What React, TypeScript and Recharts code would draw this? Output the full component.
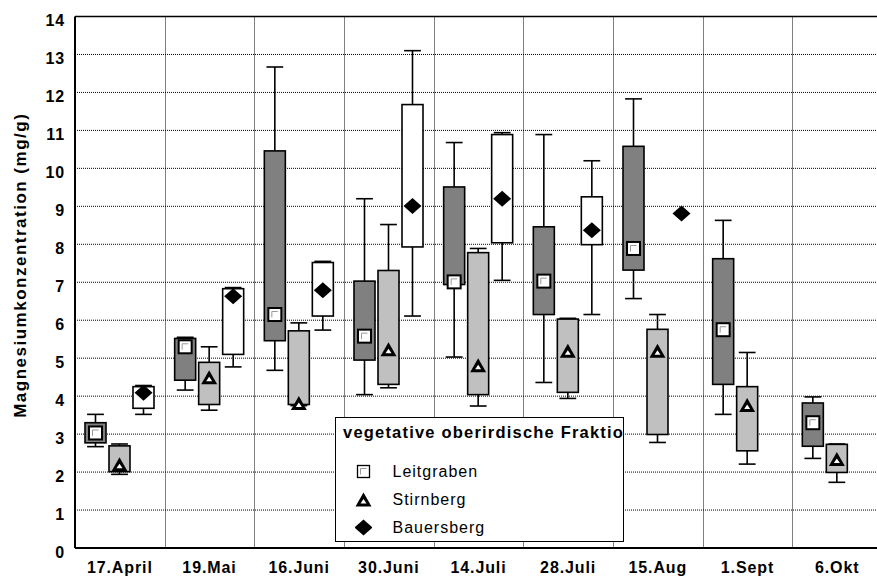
import React from 'react';
import { Bar, CartesianGrid, ComposedChart, ReferenceLine, XAxis, YAxis } from 'recharts';

// ----------------------
// DATA
// ----------------------
const dates = ['17.April', '19.Mai', '16.Juni', '30.Juni', '14.Juli', '28.Juli', '15.Aug', '1.Sept', '6.Okt'];
const yTicks = [0, 1, 2, 3, 4, 5, 6, 7, 8, 9, 10, 11, 12, 13, 14];

// Leitgraben
const lgMin = [2.67, 4.16, 4.68, 4.04, 5.03, 4.36, 6.57, 3.52, 2.36];
const lgQ1 = [2.77, 4.42, 5.46, 4.95, 6.94, 6.15, 7.32, 4.31, 2.68];
const lgMed = [3.03, 5.3, 6.15, 5.58, 7.01, 7.03, 7.89, 5.75, 3.3];
const lgQ3 = [3.3, 5.52, 10.46, 7.03, 9.51, 8.46, 10.58, 7.62, 3.82];
const lgMax = [3.52, 5.55, 12.67, 9.2, 10.68, 10.89, 11.83, 8.63, 3.98];

// Stirnberg
const stMin = [1.94, 3.63, 3.75, 4.22, 3.74, 3.94, 2.78, 2.21, 1.73];
const stQ1 = [2.01, 3.78, 3.78, 4.31, 4.04, 4.1, 2.99, 2.56, 1.99];
const stMed = [2.18, 4.47, 3.79, 5.21, 4.79, 5.17, 5.17, 3.74, 2.32];
const stQ3 = [2.69, 4.89, 5.72, 7.31, 7.78, 6.03, 5.76, 4.25, 2.73];
const stMax = [2.74, 5.3, 5.93, 8.52, 7.89, 6.05, 6.15, 5.15, 2.74];

// Bauersberg
const baMin = [3.52, 4.77, 5.74, 6.11, 7.05, 6.15, null, null, null];
const baQ1 = [3.68, 5.1, 6.11, 7.93, 8.04, 7.99, null, null, null];
const baMed = [4.09, 6.63, 6.79, 9.01, 9.2, 8.37, 8.81, null, null];
const baQ3 = [4.25, 6.83, 7.52, 11.68, 10.89, 9.25, null, null, null];
const baMax = [4.28, 6.86, 7.55, 13.1, 10.94, 10.2, null, null, null];

type Stats = { min: number | null; q1: number | null; med: number | null; q3: number | null; max: number | null };

const rows = dates.map((date, i) => ({
  date,
  lg: { min: lgMin[i], q1: lgQ1[i], med: lgMed[i], q3: lgQ3[i], max: lgMax[i] } as Stats,
  st: { min: stMin[i], q1: stQ1[i], med: stMed[i], q3: stQ3[i], max: stMax[i] } as Stats,
  ba: { min: baMin[i], q1: baQ1[i], med: baMed[i], q3: baQ3[i], max: baMax[i] } as Stats,
}));

const topOf = (s: Stats) => (s.max != null ? s.max : s.med);

const FONT = "Arial, 'Liberation Sans', sans-serif";

// ----------------------
// MARKERS
// ----------------------
const SquareMark = ({ cx, cy, size = 13, sw = 2 }: any) => (
  <g>
    <rect x={cx - size / 2} y={cy - size / 2} width={size} height={size} fill="#fff" stroke="#000" strokeWidth={sw} />
    <path d={`M${cx - 3} ${cy + 3} V${cy - 3} H${cx + 3}`} fill="none" stroke="#999" strokeWidth={1} />
  </g>
);

const TriangleMark = ({ cx, cy }: any) => (
  <g>
    <polygon points={`${cx},${cy - 8} ${cx + 8},${cy + 6} ${cx - 8},${cy + 6}`} fill="#000" />
    <polygon points={`${cx},${cy - 1.5} ${cx + 3},${cy + 3} ${cx - 3},${cy + 3}`} fill="#fff" />
  </g>
);

const DiamondMark = ({ cx, cy }: any) => (
  <polygon points={`${cx},${cy - 8} ${cx + 9},${cy} ${cx},${cy + 8} ${cx - 9},${cy}`} fill="#000" />
);

// ----------------------
// BOX SHAPE (bar runs 0..top, used as the value scale)
// ----------------------
function boxShape(key: 'lg' | 'st' | 'ba', fill: string, Marker: any) {
  return (props: any) => {
    const { x, y, width, height, payload } = props;
    const s: Stats | undefined = payload?.[key];
    const top = s ? topOf(s) : null;
    if (!s || top == null || !height) return <g />;
    const ppu = height / top;
    const py = (v: number) => y + height - v * ppu;
    const cx = x + width / 2;
    const cap = width * 0.4;
    return (
      <g>
        {s.max != null && s.min != null && (
          <g stroke="#000" strokeWidth={1.6}>
            <line x1={cx} x2={cx} y1={py(s.max)} y2={py(s.min)} />
            <line x1={cx - cap} x2={cx + cap} y1={py(s.max)} y2={py(s.max)} />
            <line x1={cx - cap} x2={cx + cap} y1={py(s.min)} y2={py(s.min)} />
          </g>
        )}
        {s.q1 != null && s.q3 != null && (
          <rect x={x} y={py(s.q3)} width={width} height={py(s.q1) - py(s.q3)} fill={fill} stroke="#000" strokeWidth={1.6} />
        )}
        {s.med != null && <Marker cx={cx} cy={py(s.med)} />}
      </g>
    );
  };
}

const YLabel = ({ viewBox }: any) => (
  <text
    transform={`translate(${viewBox.x + 20.5}, ${viewBox.y + viewBox.height / 2 - 17}) rotate(-90)`}
    textAnchor="middle"
    dominantBaseline="central"
    fontFamily={FONT}
    fontWeight="bold"
    fontSize={17}
    letterSpacing={1.5}
    fill="#000"
  >
    Magnesiumkonzentration (mg/g)
  </text>
);

const tickStyle = { fill: '#000', fontSize: 16, fontWeight: 'bold', fontFamily: FONT, letterSpacing: 0.9 };

const legendItems = [
  { name: 'Leitgraben', icon: <SquareMark cx={8.5} cy={8.5} size={12} sw={1.3} /> },
  { name: 'Stirnberg', icon: <TriangleMark cx={8.5} cy={9.5} /> },
  { name: 'Bauersberg', icon: <DiamondMark cx={8.5} cy={8.5} /> },
];

export default function App() {
  return (
    <div style={{ position: 'fixed', left: 0, top: 0, width: 877, height: 579, overflow: 'hidden', background: '#fff' }}>
      <ComposedChart
        width={882}
        height={579}
        data={rows}
        margin={{ top: 16.5, right: 0, bottom: 0, left: 0 }}
        barSize={21}
        barGap={3}
      >
        <CartesianGrid
          stroke="#000"
          strokeDasharray="1 1"
          verticalCoordinatesGenerator={({ offset }: any) =>
            dates.map((_, k) => Math.round(offset.left + ((k + 1) * offset.width) / dates.length) + 0.5)
          }
        />
        <XAxis
          dataKey="date"
          height={31}
          tickLine={false}
          tickSize={0}
          tickMargin={14}
          axisLine={{ stroke: '#000', strokeWidth: 2 }}
          tick={tickStyle}
        />
        <YAxis
          width={75}
          domain={[0, 14]}
          ticks={yTicks}
          interval={0}
          tickLine={false}
          tickSize={0}
          tickMargin={10}
          axisLine={{ stroke: '#000', strokeWidth: 2 }}
          tick={{ ...tickStyle, dy: 4 }}
          label={<YLabel />}
        />
        <ReferenceLine y={14} stroke="#000" strokeWidth={1.5} />
        <Bar dataKey={(r: any) => topOf(r.lg)} shape={boxShape('lg', '#808080', SquareMark)} isAnimationActive={false} />
        <Bar dataKey={(r: any) => topOf(r.st)} shape={boxShape('st', '#c0c0c0', TriangleMark)} isAnimationActive={false} />
        <Bar dataKey={(r: any) => topOf(r.ba)} shape={boxShape('ba', '#ffffff', DiamondMark)} isAnimationActive={false} />
      </ComposedChart>

      <div
        style={{
          position: 'absolute',
          left: 335,
          top: 417,
          width: 289,
          height: 125,
          boxSizing: 'border-box',
          border: '1.5px solid #000',
          background: '#fff',
          overflow: 'hidden',
          fontFamily: FONT,
          color: '#000',
        }}
      >
        <div
          style={{
            position: 'absolute',
            left: 7,
            top: 5,
            fontSize: 16.5,
            fontWeight: 'bold',
            whiteSpace: 'nowrap',
            letterSpacing: 1.2,
          }}
        >
          vegetative oberirdische Fraktio
        </div>
        {legendItems.map((it, i) => (
          <div
            key={it.name}
            style={{ position: 'absolute', left: 18.5, top: 44.5 + i * 28, height: 18, display: 'flex', alignItems: 'center' }}
          >
            <svg width={17} height={17} style={{ display: 'block' }}>
              {it.icon}
            </svg>
            <span style={{ marginLeft: 21, fontSize: 16, letterSpacing: 1 }}>{it.name}</span>
          </div>
        ))}
      </div>
    </div>
  );
}
